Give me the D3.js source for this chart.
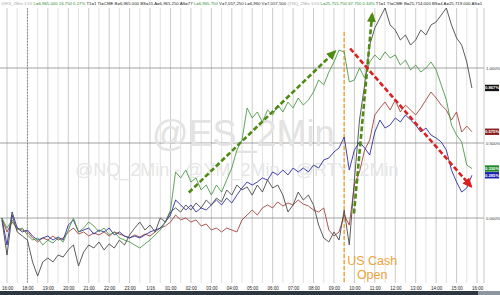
<!DOCTYPE html>
<html>
<head>
<meta charset="utf-8">
<script src="https://cdn.jsdelivr.net/npm/d3@7"></script>
<style>
  body { margin: 0; background: #fff; }
  svg { display: block; font-family: Arial, "Liberation Sans", sans-serif; }
</style>
</head>
<body>
<div id="chart"></div>
<script>
// x axis is in trading hours: 0 = 16:00, 1 = 18:00 (17:00 halt skipped) ... 23 = 16:00 next day
var tickLabels = ["16:00", "18:00", "19:00", "20:00", "21:00", "22:00", "23:00", "1/16", "01:00", "02:00",
  "03:00", "04:00", "05:00", "06:00", "07:00", "08:00", "09:00", "10:00", "11:00", "12:00",
  "13:00", "14:00", "15:00", "16:00"];
var startHour = -0.25, stepHour = 0.25;   // one value every 15 minutes
var cashOpenHour = 16.5;                  // 09:30
var gridPct = [0, 0.5, 1];

// % change since open
var seriesDark = [-0.013,-0.247,0.02,-0.093,-0.12,-0.147,-0.293,-0.387,-0.293,-0.267,
  -0.293,-0.247,-0.26,-0.213,-0.18,-0.32,-0.227,-0.18,-0.2,-0.16,
  -0.213,-0.173,-0.2,-0.147,-0.18,-0.113,-0.067,-0.027,-0.08,-0.047,
  -0.093,0,-0.027,0.04,0.067,0.04,0.087,0.053,0.1,0.067,
  0.12,0.087,0.133,0.107,0.187,0.153,0.22,0.187,0.207,0.153,
  0.22,0.173,0.253,0.2,0.22,0.153,0.04,0.087,0.173,0.12,
  0.153,0.087,-0.047,-0.133,-0.16,-0.093,-0.147,0.053,-0.18,0.253,
  0.653,0.887,1.153,1.267,1.333,1.4,1.287,1.253,1.187,1.22,
  1.153,1.187,1.253,1.22,1.287,1.307,1.353,1.4,1.287,1.2,
  1.153,1.04,0.867];
var seriesGreen = [0,-0.067,-0.013,-0.08,-0.067,-0.113,-0.147,-0.133,-0.18,-0.147,
  -0.167,-0.133,-0.16,-0.08,0,-0.093,-0.067,-0.027,-0.053,-0.093,
  -0.067,-0.113,-0.093,-0.133,-0.147,-0.16,-0.18,-0.2,-0.173,-0.147,
  -0.113,-0.08,-0.027,0.053,0.307,0.267,0.32,0.24,0.267,0.187,
  0.22,0.153,0.22,0.173,0.253,0.333,0.453,0.52,0.733,0.667,
  0.707,0.64,0.72,0.687,0.753,0.707,0.773,0.733,0.8,0.753,
  0.787,0.84,0.92,0.887,0.973,1.04,1.12,1.107,0.907,0.92,
  1.0,0.933,1.04,1.087,1.053,1.107,1.067,1.087,1.02,1.053,
  0.987,1.02,0.973,1.0,1.04,0.987,0.887,0.787,0.62,0.553,
  0.507,0.353,0.33];
var seriesRed = [0,-0.093,-0.027,-0.067,-0.08,-0.093,-0.133,-0.16,-0.133,-0.147,
  -0.12,-0.147,-0.133,-0.093,-0.067,-0.107,-0.093,-0.12,-0.1,-0.113,
  -0.093,-0.12,-0.093,-0.107,-0.12,-0.133,-0.113,-0.127,-0.107,-0.12,
  -0.093,-0.067,-0.053,-0.027,0.02,-0.013,0,-0.027,-0.013,-0.053,
  -0.04,-0.08,-0.067,-0.093,-0.067,-0.08,-0.093,-0.013,0.02,0.053,
  0.02,0.067,0.087,0.067,0.107,0.08,0.1,0.087,0.12,0.093,
  0.08,0.053,0.04,0.067,-0.08,-0.12,-0.093,0.02,-0.047,0.22,
  0.307,0.453,0.52,0.687,0.733,0.773,0.72,0.787,0.707,0.753,
  0.72,0.687,0.733,0.787,0.84,0.8,0.753,0.72,0.653,0.707,
  0.573,0.613,0.575];
var seriesBlue = [0,-0.18,0.04,-0.067,-0.093,-0.08,-0.12,-0.147,-0.133,-0.12,
  -0.147,-0.127,-0.147,-0.047,-0.013,-0.093,-0.08,-0.067,-0.107,-0.08,
  -0.093,-0.067,-0.113,-0.093,-0.12,-0.133,-0.12,-0.133,-0.113,-0.093,
  -0.08,-0.067,-0.027,0.02,0.12,0.087,0.053,0.087,0.04,0.067,
  0.053,0.087,0.12,0.087,0.133,0.1,0.153,0.2,0.24,0.22,
  0.24,0.267,0.253,0.307,0.287,0.32,0.287,0.333,0.307,0.333,
  0.307,0.353,0.333,0.387,0.4,0.44,0.467,0.54,0.32,0.453,
  0.507,0.467,0.42,0.573,0.653,0.6,0.62,0.667,0.64,0.687,
  0.653,0.62,0.573,0.6,0.553,0.533,0.507,0.453,0.32,0.24,
  0.173,0.2,0.285];

// drawn annotation arrows, in [hour, pct]
var arrowsGreen = [[[8.9, 0.17], [16.05, 1.11]], [[16.98, 0.03], [17.87, 1.36]]];
var arrowsRed = [[[16.79, 1.13], [22.71, 0.21]]];

var headerBits = [
  ["@ES_2Min 1/16 ", "#aaa"], ["L=6,965.000 16.750 0.27% ", "#2e8b2e"],
  ["T1=1  TI=CME  B=6,965.000  BS=15  A=6,965.250  AS=77 ", "#222"], ["L=6,965.750 ", "#2e8b2e"],
  ["V=7,057,250  L=6,960  V=7,057,500 ", "#222"], ["@NQ_2Min 1/16 ", "#aaa"],
  ["L=25,715.750 67.750 0.34% ", "#2e8b2e"],
  ["T1=1  TI=CME  B=25,714.000  BS=4  A=25,719.000  AS=1", "#222"]
];

var width = 500, height = 295;
var plotRight = 478, plotTop = 8, plotBottom = 283;

var svg = d3.select("#chart").append("svg")
  .attr("width", width).attr("height", height);

var x = d3.scaleLinear().domain([0, 23]).range([7, 477]);
var y = d3.scaleLinear().domain([0, 1]).range([218, 68]);

// vertical grid: every half hour
var halfHours = d3.range(-0.5, 23.01, 0.5);
svg.append("g").selectAll("line")
  .data(halfHours)
  .enter().append("line")
  .attr("x1", d => x(d)).attr("x2", d => x(d))
  .attr("y1", plotTop).attr("y2", plotBottom)
  .attr("stroke", d => d % 1 === 0 ? "#bdbdbd" : "#d8d8d8")
  .attr("stroke-width", 0.8);

// session break
svg.append("line")
  .attr("x1", x(1)).attr("x2", x(1))
  .attr("y1", plotTop).attr("y2", plotBottom)
  .attr("stroke", "#777").attr("stroke-width", 0.8)
  .attr("stroke-dasharray", "1.5,1.5");

// horizontal grid
svg.append("g").selectAll("line")
  .data(gridPct)
  .enter().append("line")
  .attr("x1", 0).attr("x2", 484)
  .attr("y1", d => y(d)).attr("y2", d => y(d))
  .attr("stroke", "#8a8a8a").attr("stroke-width", 0.8);

svg.append("line")
  .attr("x1", 484).attr("x2", 484).attr("y1", plotTop).attr("y2", plotBottom)
  .attr("stroke", "#bbb").attr("stroke-width", 0.8);

// watermarks
svg.append("text")
  .attr("x", 152).attr("y", 146)
  .style("font-size", "36px").style("fill", "#e3e3e3")
  .text("@ES_2Min");
svg.append("text")
  .attr("x", 75).attr("y", 176)
  .style("font-size", "18px").style("fill", "#e6e6e6")
  .text("@NQ_2Min - @YM_2Min - @RTY_2Min");

// US cash open
svg.append("line")
  .attr("x1", x(cashOpenHour)).attr("x2", x(cashOpenHour))
  .attr("y1", y(1.24)).attr("y2", plotBottom)
  .attr("stroke", "#f0a335").attr("stroke-width", 1.4)
  .attr("stroke-dasharray", "4,2");
svg.append("text")
  .attr("x", x(cashOpenHour) + 28).attr("y", 265)
  .style("font-size", "12.5px").style("fill", "#eea33a")
  .style("text-anchor", "middle")
  .text("US Cash");
svg.append("text")
  .attr("x", x(cashOpenHour) + 28).attr("y", 279)
  .style("font-size", "12.5px").style("fill", "#eea33a")
  .style("text-anchor", "middle")
  .text("Open");

// series
var series = [
  { name: "red", values: seriesRed, color: "#a3443c", box: "#8b1e1e" },
  { name: "blue", values: seriesBlue, color: "#2b2f9e", box: "#1c22b0" },
  { name: "green", values: seriesGreen, color: "#4c9a4c", box: "#1f8a2a" },
  { name: "dark", values: seriesDark, color: "#4a4a4a", box: "#111" }
];

var line = d3.line()
  .x((d, i) => x(startHour + i * stepHour))
  .y(d => y(d));

svg.append("g").selectAll("path")
  .data(series)
  .enter().append("path")
  .attr("d", d => line(d.values))
  .attr("fill", "none")
  .attr("stroke", d => d.color)
  .attr("stroke-width", 0.9)
  .attr("stroke-linejoin", "round");

// arrows
var defs = svg.append("defs");
[["headGreen", "#4f8a12"], ["headRed", "#dc2020"]].forEach(function (m) {
  defs.append("marker")
    .attr("id", m[0])
    .attr("markerUnits", "userSpaceOnUse")
    .attr("markerWidth", 10).attr("markerHeight", 9)
    .attr("refX", 8).attr("refY", 4.5)
    .attr("orient", "auto")
    .append("path")
    .attr("d", "M0,0 L10,4.5 L0,9 Z")
    .attr("fill", m[1]);
});

function drawArrows(list, color, head) {
  svg.append("g").selectAll("line")
    .data(list)
    .enter().append("line")
    .attr("x1", d => x(d[0][0])).attr("y1", d => y(d[0][1]))
    .attr("x2", d => x(d[1][0])).attr("y2", d => y(d[1][1]))
    .attr("stroke", color).attr("stroke-width", 2.6)
    .attr("stroke-dasharray", "5,2.5")
    .attr("marker-end", "url(#" + head + ")");
}
drawArrows(arrowsGreen, "#4f8a12", "headGreen");
drawArrows(arrowsRed, "#dc2020", "headRed");

// right axis
var yAxis = svg.append("g")
  .attr("transform", "translate(484,0)")
  .call(d3.axisRight(y).tickValues(gridPct).tickSize(0).tickPadding(2)
    .tickFormat(d => d3.format(".3f")(d) + "%"));
yAxis.select(".domain").remove();
yAxis.selectAll("text").style("font-size", "4.2px").style("fill", "#333");

// last value boxes
var tags = svg.append("g").selectAll("g")
  .data(series)
  .enter().append("g")
  .attr("transform", d => "translate(485," + y(d.values[d.values.length - 1]) + ")");
tags.append("rect")
  .attr("x", 0).attr("y", -3.2).attr("width", 14).attr("height", 6.4)
  .attr("fill", d => d.box);
tags.append("text")
  .attr("x", 7).attr("y", 1.5)
  .style("font-size", "4.2px").style("fill", "#fff").style("font-weight", "bold")
  .style("text-anchor", "middle")
  .text(d => d3.format(".3f")(d.values[d.values.length - 1]) + "%");

// bottom axis
var xAxis = svg.append("g")
  .attr("transform", "translate(0," + plotBottom + ")")
  .call(d3.axisBottom(x).tickValues(d3.range(24)).tickSize(0).tickPadding(4)
    .tickFormat(d => tickLabels[d]));
xAxis.select(".domain").remove();
xAxis.selectAll("text").style("font-size", "4.5px").style("fill", "#222");

svg.append("rect")
  .attr("x", 0).attr("y", 291).attr("width", 478).attr("height", 4)
  .attr("fill", "#2e3640");
svg.append("rect")
  .attr("x", 478).attr("y", 291).attr("width", 22).attr("height", 4)
  .attr("fill", "#8d969e");

// header strip
var header = svg.append("text")
  .attr("x", 1).attr("y", 4.5)
  .style("font-size", "4.3px");
header.selectAll("tspan")
  .data(headerBits)
  .enter().append("tspan")
  .style("fill", d => d[1])
  .text(d => d[0] + " ");
</script>
</body>
</html>
